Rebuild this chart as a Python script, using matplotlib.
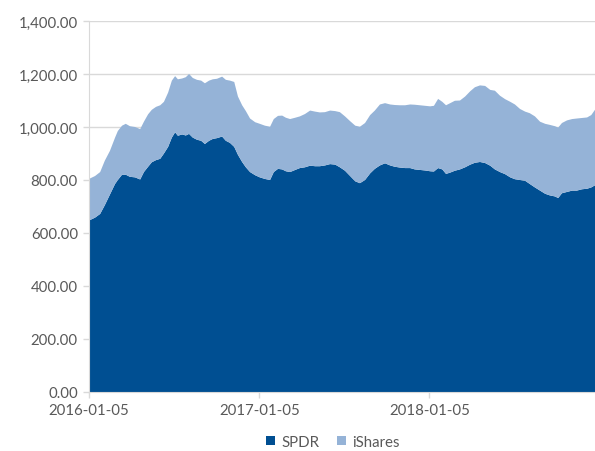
import matplotlib
matplotlib.use("Agg")
import matplotlib.pyplot as plt
from matplotlib.ticker import FuncFormatter
from matplotlib.patches import Patch
import pandas as pd

dates = [
    "2016-01-05", "2016-01-18", "2016-01-29", "2016-02-08", "2016-02-19", "2016-03-01",
    "2016-03-07", "2016-03-16", "2016-03-24", "2016-04-02", "2016-04-13", "2016-04-24",
    "2016-05-02", "2016-05-11", "2016-05-19", "2016-05-28", "2016-06-06", "2016-06-14",
    "2016-06-23", "2016-07-01", "2016-07-08", "2016-07-14", "2016-07-23", "2016-07-31",
    "2016-08-07", "2016-08-15", "2016-08-24", "2016-09-02", "2016-09-10", "2016-09-19",
    "2016-09-27", "2016-10-06", "2016-10-17", "2016-10-25", "2016-11-03", "2016-11-12",
    "2016-11-20", "2016-11-29", "2016-12-07", "2016-12-16", "2016-12-27", "2017-01-06",
    "2017-01-17", "2017-01-28", "2017-02-05", "2017-02-14", "2017-02-23", "2017-03-03",
    "2017-03-12", "2017-03-23", "2017-04-02", "2017-04-13", "2017-04-24", "2017-05-05",
    "2017-05-15", "2017-05-26", "2017-06-06", "2017-06-17", "2017-06-27", "2017-07-08",
    "2017-07-19", "2017-07-30", "2017-08-09", "2017-08-20", "2017-08-31", "2017-09-10",
    "2017-09-21", "2017-10-02", "2017-10-13", "2017-10-23", "2017-11-03", "2017-11-14",
    "2017-11-25", "2017-12-05", "2017-12-16", "2017-12-27", "2018-01-07", "2018-01-15",
    "2018-01-24", "2018-02-02", "2018-02-10", "2018-02-19", "2018-03-01", "2018-03-12",
    "2018-03-23", "2018-04-03", "2018-04-13", "2018-04-24", "2018-05-05", "2018-05-16",
    "2018-05-26", "2018-06-06", "2018-06-17", "2018-06-28", "2018-07-08", "2018-07-19",
    "2018-07-30", "2018-08-09", "2018-08-20", "2018-08-31", "2018-09-11", "2018-09-21",
    "2018-10-02", "2018-10-09", "2018-10-17", "2018-10-28", "2018-11-08", "2018-11-18",
    "2018-11-29", "2018-12-10", "2018-12-19", "2018-12-27",
]

spdr = [
    647, 658, 672, 705, 745, 785,
    800, 820, 820, 812, 810, 802,
    830, 850, 867, 875, 880, 900,
    925, 960, 980, 967, 972, 968,
    974, 960, 952, 948, 936, 948,
    955, 958, 964, 948, 940, 925,
    895, 868, 848, 830, 818, 810,
    804, 800, 830, 842, 840, 833,
    830, 838, 845, 848, 854, 852,
    852, 855, 860, 858, 848, 835,
    815, 795, 788, 800, 825, 842,
    855, 863, 855, 850, 847, 845,
    845, 840, 838, 836, 833, 832,
    845, 840, 823, 828, 835, 840,
    848, 858, 865, 868, 864, 854,
    840, 830, 822, 810, 803, 800,
    797, 785, 772, 760, 748, 742,
    738, 732, 750, 755, 760, 760,
    765, 767, 772, 780,
]

total = [
    804, 815, 830, 873, 910, 960,
    985, 1005, 1012, 1003, 1000, 992,
    1020, 1048, 1065, 1076, 1082, 1095,
    1130, 1175, 1192, 1180, 1183, 1188,
    1200, 1185, 1178, 1175, 1165, 1175,
    1180, 1182, 1190, 1178, 1175, 1170,
    1115, 1082, 1060, 1032, 1018, 1012,
    1005, 1001, 1030, 1042, 1043, 1035,
    1030, 1035, 1040, 1049, 1062, 1058,
    1055, 1056, 1062, 1060, 1056, 1040,
    1022, 1005, 1001, 1015, 1045, 1062,
    1085, 1090, 1085, 1083, 1082, 1082,
    1085, 1084, 1082, 1080, 1078, 1080,
    1106, 1095, 1082, 1090, 1099, 1100,
    1115, 1135, 1150, 1157, 1155, 1140,
    1137, 1118, 1105, 1095, 1085, 1068,
    1058, 1052, 1040, 1020, 1012, 1008,
    1003, 998, 1015, 1025, 1030, 1032,
    1034, 1036, 1045, 1065,
]

ishares = [t - s for t, s in zip(total, spdr)]

series_names = ["SPDR", "iShares"]
x_tick_labels = ["2016-01-05", "2017-01-05", "2018-01-05"]
y_ticks = [0, 200, 400, 600, 800, 1000, 1200, 1400]

c_spdr = "#004F92"
c_ish = "#95B3D7"
txt = "#595959"

plt.rcParams["font.family"] = ["Lato", "DejaVu Sans"]

fig = plt.figure(figsize=(5.95, 4.52), dpi=100)
ax = fig.add_axes([89 / 595, 1 - 393 / 452, 1 - 89 / 595, (393 - 22) / 452])

x = pd.to_datetime(dates)
ax.stackplot(x, spdr, ishares, colors=[c_spdr, c_ish], linewidth=0)

ax.set_xlim(x[0], x[-1])
ax.set_ylim(0, 1400)
ax.set_yticks(y_ticks)
ax.yaxis.set_major_formatter(FuncFormatter(lambda v, p: f"{v:,.2f}"))
ax.set_xticks(pd.to_datetime(x_tick_labels))
ax.set_xticklabels(x_tick_labels)

ax.grid(axis="y", color="#d9d9d9", linewidth=1)
ax.set_axisbelow(True)
for s in ["top", "right"]:
    ax.spines[s].set_visible(False)
ax.spines["left"].set_color("#d9d9d9")
ax.spines["bottom"].set_color("#d9d9d9")
ax.tick_params(axis="both", colors="#d9d9d9", labelcolor=txt, labelsize=10.8, length=4, width=1)
ax.tick_params(axis="y", pad=4)
ax.tick_params(axis="x", pad=4)

handles = [Patch(facecolor=c_spdr, edgecolor="none"), Patch(facecolor=c_ish, edgecolor="none")]
fig.legend(handles, series_names, loc="center", bbox_to_anchor=(333 / 595, 1 - 443 / 452),
           ncol=2, frameon=False, fontsize=10.8, labelcolor=txt, handlelength=0.6,
           handleheight=0.6, handletextpad=0.4, columnspacing=1.2, borderpad=0.2)

fig.savefig("out.png", dpi=100)
